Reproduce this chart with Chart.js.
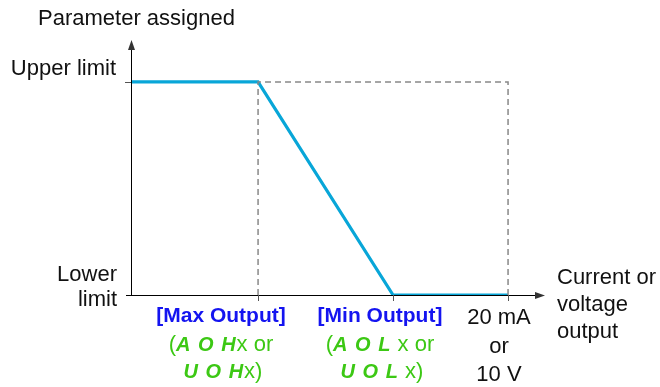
<!DOCTYPE html>
<html>
<head>
<meta charset="utf-8">
<script src="https://cdn.jsdelivr.net/npm/chart.js@4.4.0/dist/chart.umd.min.js"></script>
<style>
  html, body { margin: 0; padding: 0; background: #fff; }
  #wrap { width: 660px; height: 387px; }
</style>
</head>
<body>
<div id="wrap"><canvas id="chart" width="660" height="387"></canvas></div>
<script>
// -------------------- Data --------------------
// x in % of full-scale output (100 = 20 mA or 10 V), y: 0 = lower limit, 1 = upper limit
const breakX = [0, 33.7, 69.5, 100];
const paramY = [1, 1, 0, 0];
const guideX = [33.7, 33.7, 100, 100];
const guideY = [0, 1, 1, 0];
const xTickValues = [33.7, 69.5, 100];
const yTickValues = [1, 0];
const yTickLabels = [['Upper limit'], ['Lower', 'limit']];
const xMax = 109.8;
const yMax = 1.197;

const FONT = '"Liberation Sans", Arial, sans-serif';
const LINE_BLUE = '#08a6d8';
const TEXT_BLUE = '#1414f0';
const TEXT_GREEN = '#3cc814';

// -------------------- Decorations --------------------
const decor = {
    id: 'decor',
    afterDatasetsDraw(chart) {
        const ctx = chart.ctx;
        const xs = chart.scales.x, ys = chart.scales.y;
        const x0 = xs.getPixelForValue(0), y0 = ys.getPixelForValue(0);
        const xEnd = xs.getPixelForValue(xMax), yTop = ys.getPixelForValue(yMax);
        ctx.save();
        ctx.strokeStyle = '#000';
        ctx.fillStyle = '#000';
        ctx.lineWidth = 1;
        // axes
        ctx.beginPath();
        ctx.moveTo(x0 - 5, y0 + 0.5); ctx.lineTo(xEnd - 8, y0 + 0.5);
        ctx.moveTo(x0 + 0.5, y0 + 1); ctx.lineTo(x0 + 0.5, yTop + 8);
        ctx.stroke();
        // arrowheads
        ctx.fillStyle = '#333';
        ctx.beginPath();
        ctx.moveTo(xEnd, y0 + 0.5); ctx.lineTo(xEnd - 10, y0 - 3); ctx.lineTo(xEnd - 10, y0 + 4); ctx.closePath();
        ctx.fill();
        ctx.beginPath();
        ctx.moveTo(x0 + 0.5, yTop); ctx.lineTo(x0 - 3, yTop + 10); ctx.lineTo(x0 + 4, yTop + 10); ctx.closePath();
        ctx.fill();
        // tick marks
        ctx.strokeStyle = '#555';
        ctx.beginPath();
        xTickValues.forEach(v => {
            const px = Math.round(xs.getPixelForValue(v)) + 0.5;
            ctx.moveTo(px, y0); ctx.lineTo(px, y0 + 6);
        });
        const yu = Math.round(ys.getPixelForValue(1)) + 0.5;
        ctx.moveTo(x0 - 6, yu); ctx.lineTo(x0, yu);
        ctx.stroke();

        // y labels
        ctx.fillStyle = '#111';
        ctx.font = '22px ' + FONT;
        ctx.textBaseline = 'middle';
        ctx.textAlign = 'left';
        ctx.fillText('Parameter assigned', 38, 19);
        ctx.textAlign = 'right';
        ctx.fillText(yTickLabels[0][0], 116, ys.getPixelForValue(1) - 13);
        ctx.fillText(yTickLabels[1][0], 117, y0 - 20);
        ctx.fillText(yTickLabels[1][1], 117, y0 + 5);

        // x labels
        const c1 = 221, c2 = 380;
        ctx.textAlign = 'center';
        ctx.font = 'bold 21px ' + FONT;
        ctx.fillStyle = TEXT_BLUE;
        ctx.fillText('[Max Output]', c1, 316);
        ctx.fillText('[Min Output]', c2, 316);

        ctx.fillStyle = TEXT_GREEN;
        const seg = 'italic bold 20px ' + FONT;
        drawMixed(ctx, c1, 345, [['(', 'n'], ['A O H', 'seg'], ['x or', 'n']], seg);
        drawMixed(ctx, c1 + 2, 372, [['U O H', 'seg'], ['x)', 'n']], seg);
        drawMixed(ctx, c2, 345, [['(', 'n'], ['A O L', 'seg'], [' x or', 'n']], seg);
        drawMixed(ctx, c2 + 2, 372, [['U O L', 'seg'], [' x)', 'n']], seg);

        ctx.fillStyle = '#111';
        ctx.font = '22px ' + FONT;
        ctx.letterSpacing = '0px';
        ctx.textAlign = 'center';
        const cx = 499;
        ctx.fillText('20 mA', cx, 318);
        ctx.fillText('or', cx, 347);
        ctx.fillText('10 V', cx, 375);

        ctx.textAlign = 'left';
        ctx.fillText('Current or', 557, 278);
        ctx.fillText('voltage', 557, 305);
        ctx.fillText('output', 557, 332);
        ctx.restore();
    }
};

function drawMixed(ctx, cx, y, parts, seg) {
    const fonts = parts.map(p => p[1] === 'seg' ? seg : '22px ' + FONT);
    const spacing = parts.map(p => p[1] === 'seg' ? '1px' : '0px');
    let total = 0;
    const widths = parts.map((p, i) => {
        ctx.font = fonts[i]; ctx.letterSpacing = spacing[i];
        const w = ctx.measureText(p[0]).width; total += w; return w;
    });
    let x = cx - total / 2;
    ctx.textAlign = 'left';
    parts.forEach((p, i) => {
        ctx.font = fonts[i]; ctx.letterSpacing = spacing[i];
        ctx.fillText(p[0], x, y);
        x += widths[i];
    });
}

// -------------------- Chart --------------------
new Chart(document.getElementById('chart'), {
    type: 'line',
    data: {
        datasets: [
            {
                data: guideX.map((x, i) => ({ x, y: guideY[i] })),
                borderColor: '#888',
                borderWidth: 1.5,
                borderDash: [6, 4],
                pointRadius: 0,
                tension: 0
            },
            {
                data: breakX.map((x, i) => ({ x, y: paramY[i] })),
                borderColor: LINE_BLUE,
                borderWidth: 3.2,
                pointRadius: 0,
                tension: 0
            }
        ]
    },
    options: {
        responsive: false,
        animation: false,
        events: [],
        layout: { padding: { left: 131, right: 115, top: 40, bottom: 92 } },
        plugins: { legend: { display: false }, tooltip: { enabled: false } },
        scales: {
            x: { type: 'linear', min: 0, max: xMax, display: false },
            y: { type: 'linear', min: 0, max: yMax, display: false }
        }
    },
    plugins: [decor]
});
</script>
</body>
</html>
